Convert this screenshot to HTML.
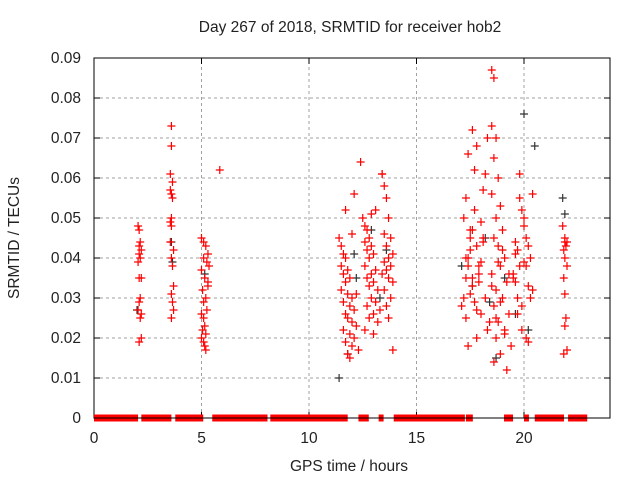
<!DOCTYPE html>
<html><head><meta charset="utf-8"><style>
body{margin:0;background:#fff}
svg{display:block;font-family:"Liberation Sans",sans-serif}
</style></head><body>
<svg id="chart" width="640" height="480" xmlns="http://www.w3.org/2000/svg">
<text x="350" y="32" text-anchor="middle" font-size="15.5" fill="#222">Day 267 of 2018, SRMTID for receiver hob2</text>
<text x="349" y="471" text-anchor="middle" font-size="15.5" fill="#222">GPS time / hours</text>
<text transform="translate(19,238) rotate(-90)" text-anchor="middle" font-size="15.5" fill="#222">SRMTID / TECUs</text>
<g id="grid"></g><g id="axes"></g><g id="gaps"></g><g id="pts"></g>
</svg>
<script>
const xTicks=[0,5,10,15,20];
const yTicks=[0,0.01,0.02,0.03,0.04,0.05,0.06,0.07,0.08,0.09];
const yTickLabels=["0","0.01","0.02","0.03","0.04","0.05","0.06","0.07","0.08","0.09"];
const segStart=[0,2.2,3.78,5.5,8.2,12.3,13.24,13.94,17.3,19.07,20.0,20.5,22.05];
const segEnd=[2.05,3.6,5.08,8.07,11.8,12.78,13.47,17.25,17.62,19.49,20.23,21.86,22.94];
const redT=[2.05,2.1,2.15,2.1,2.2,2.1,2.15,2.05,2.1,2.2,2.15,2.1,2.05,2.2,2.15,2.2,2.1,
3.6,3.6,3.55,3.65,3.55,3.6,3.65,3.6,3.55,3.6,3.55,3.7,3.6,3.65,3.7,3.6,3.65,3.7,3.6,
5.0,5.1,5.2,5.3,5.1,5.25,5.35,5.0,5.15,5.3,5.05,5.2,5.1,5.25,5.0,5.1,5.15,5.05,5.2,5.0,5.1,5.15,5.3,5.2,5.85,
11.4,11.5,11.6,11.7,11.5,11.8,11.6,11.9,11.7,11.5,11.8,12.0,11.6,11.9,12.1,11.7,11.8,12.0,12.2,11.6,11.9,12.1,11.7,12.0,12.3,11.8,11.9,12.2,12.4,12.0,11.7,12.1,
12.5,12.6,12.7,12.8,12.6,12.9,12.7,13.0,12.8,12.6,13.1,12.9,12.7,13.0,12.8,13.2,12.9,13.1,12.7,13.3,13.0,12.8,13.2,12.6,13.0,12.9,13.4,13.1,
13.4,13.5,13.6,13.7,13.5,13.8,13.6,13.9,13.7,13.5,13.8,13.6,13.4,13.7,13.9,13.5,13.8,13.6,13.7,13.9,
17.1,17.2,17.3,17.4,17.5,17.2,17.6,17.3,17.7,17.5,17.8,17.4,17.9,17.6,17.3,18.0,17.7,17.5,17.8,18.1,17.4,17.9,18.2,17.6,18.0,17.3,17.8,18.3,17.5,18.1,17.7,18.4,17.9,17.4,18.2,18.0,17.6,18.3,17.8,18.1,
18.5,18.6,18.5,18.7,18.6,18.8,18.5,18.9,18.7,19.0,18.6,18.8,19.1,18.9,18.5,19.2,18.7,19.0,18.6,19.3,18.8,19.1,18.7,19.4,18.9,18.6,19.2,19.0,18.8,18.5,19.3,18.7,18.9,19.1,
19.5,19.6,19.7,19.8,19.9,20.0,20.1,19.6,20.2,19.8,20.3,19.7,20.0,20.4,19.9,20.1,19.5,20.2,19.8,20.3,20.0,19.6,20.1,19.9,20.4,19.7,20.2,
21.8,21.9,22.0,21.85,21.95,21.9,22.0,21.85,21.9,21.95,21.9,22.0,21.85,21.9];
const redV=[0.048,0.047,0.044,0.043,0.042,0.041,0.040,0.039,0.035,0.035,0.030,0.029,0.027,0.026,0.025,0.020,0.019,
0.073,0.068,0.061,0.059,0.057,0.056,0.055,0.050,0.049,0.048,0.044,0.042,0.040,0.038,0.033,0.031,0.029,0.027,0.025,
0.045,0.044,0.043,0.041,0.040,0.039,0.038,0.037,0.035,0.033,0.032,0.030,0.029,0.027,0.026,0.025,0.023,0.022,0.021,0.020,0.019,0.018,0.034,0.017,0.062,
0.045,0.043,0.041,0.040,0.038,0.037,0.036,0.035,0.034,0.032,0.031,0.030,0.029,0.028,0.027,0.026,0.025,0.024,0.023,0.022,0.021,0.020,0.019,0.018,0.017,0.016,0.015,0.031,0.064,0.046,0.052,0.056,
0.050,0.048,0.047,0.045,0.044,0.043,0.042,0.041,0.040,0.038,0.037,0.036,0.035,0.034,0.033,0.032,0.030,0.029,0.028,0.027,0.026,0.025,0.024,0.022,0.021,0.051,0.061,0.052,
0.061,0.058,0.055,0.050,0.046,0.045,0.043,0.041,0.040,0.039,0.038,0.037,0.036,0.035,0.034,0.032,0.030,0.028,0.025,0.017,
0.028,0.030,0.035,0.040,0.045,0.050,0.072,0.055,0.062,0.047,0.043,0.038,0.036,0.033,0.025,0.039,0.029,0.042,0.020,0.044,0.018,0.034,0.061,0.047,0.026,0.040,0.068,0.022,0.031,0.057,0.052,0.024,0.038,0.066,0.030,0.049,0.035,0.070,0.027,0.045,
0.087,0.085,0.073,0.070,0.065,0.060,0.056,0.053,0.050,0.047,0.045,0.043,0.040,0.038,0.036,0.034,0.032,0.030,0.028,0.026,0.024,0.022,0.020,0.018,0.016,0.014,0.012,0.042,0.039,0.033,0.036,0.025,0.029,0.021,
0.035,0.041,0.030,0.055,0.028,0.050,0.038,0.044,0.033,0.061,0.040,0.026,0.048,0.032,0.022,0.045,0.036,0.043,0.038,0.030,0.039,0.034,0.020,0.052,0.056,0.042,0.019,
0.048,0.045,0.044,0.042,0.043,0.040,0.038,0.035,0.031,0.025,0.023,0.017,0.016,0.044];
const blkT=[2.0,3.6,3.65,5.15,11.4,11.8,12.2,12.9,13.3,13.6,17.1,17.6,18.2,18.7,19.1,19.6,20.0,20.2,20.5,21.8,21.9,12.1,18.4];
const blkV=[0.027,0.044,0.039,0.036,0.010,0.016,0.035,0.047,0.030,0.042,0.038,0.033,0.045,0.015,0.035,0.026,0.076,0.022,0.068,0.055,0.051,0.041,0.029];

const X0=94,X1=610,Y0=418,Y1=58;
const sx=h=>X0+(X1-X0)*h/24;
const sy=v=>Y0-(Y0-Y1)*v/0.09;
const NS="http://www.w3.org/2000/svg";
function mk(tag,attrs,parent){const e=document.createElementNS(NS,tag);for(const k in attrs)e.setAttribute(k,attrs[k]);parent.appendChild(e);return e;}
const grid=document.getElementById('grid'),axes=document.getElementById('axes'),gaps=document.getElementById('gaps'),pts=document.getElementById('pts');
yTicks.forEach((v,i)=>{
  if(i>0&&i<yTicks.length-1){const g=mk('line',{x1:X0,x2:X1,y1:sy(v),y2:sy(v),stroke:'#a0a0a0','stroke-dasharray':'3,3'},grid);
  
  }
  mk('line',{x1:X0,x2:X0+6,y1:sy(v),y2:sy(v),stroke:'#000'},axes);
  mk('line',{x1:X1,x2:X1-6,y1:sy(v),y2:sy(v),stroke:'#000'},axes);
  const t=mk('text',{x:X0-13,y:sy(v)+5,'text-anchor':'end','font-size':15.5,fill:'#222'},axes);t.textContent=yTickLabels[i];
  
  
});
xTicks.forEach(h=>{
  if(h>0){const g=mk('line',{x1:sx(h),x2:sx(h),y1:Y0,y2:Y1,stroke:'#a0a0a0','stroke-dasharray':'3,3'},grid);
  
  }
  mk('line',{x1:sx(h),x2:sx(h),y1:Y0,y2:Y0-6,stroke:'#000'},axes);
  mk('line',{x1:sx(h),x2:sx(h),y1:Y1,y2:Y1+6,stroke:'#000'},axes);
  const t=mk('text',{x:sx(h),y:Y0+25,'text-anchor':'middle','font-size':15.5,fill:'#222'},axes);t.textContent=h;
  
  
});
const fr=mk('rect',{x:X0,y:Y1,width:X1-X0,height:Y0-Y1,fill:'none',stroke:'#000'},axes);


segStart.forEach((s,i)=>{
  const r=mk('rect',{x:sx(s),y:Y0-3.5,width:sx(segEnd[i])-sx(s),height:7,fill:'#f00'},gaps);
  
  
});
mk('line',{x1:X0,x2:X1,y1:Y0,y2:Y0,stroke:'#000'},gaps);
function plus(t,v,c){
  const x=sx(t),y=sy(v);
  const p=mk('path',{d:`M${x-4},${y}H${x+4}M${x},${y-4}V${y+4}`,stroke:c,'stroke-width':1.2},pts);
  return p;
}
blkT.forEach((t,i)=>{const p=plus(t,blkV[i],'#333');
  
  });
redT.forEach((t,i)=>{const p=plus(t,redV[i],'#f00');
  
  });
</script>
</body></html>
